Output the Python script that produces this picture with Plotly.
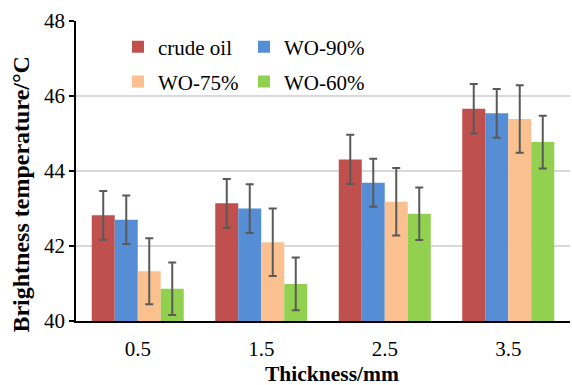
import plotly.graph_objects as go

categories = ["0.5", "1.5", "2.5", "3.5"]
series_names = ["crude oil", "WO-90%", "WO-75%", "WO-60%"]
crude_oil = [42.82, 43.14, 44.31, 45.66]
wo_90 = [42.70, 43.00, 43.69, 45.54]
wo_75 = [41.33, 42.10, 43.18, 45.39]
wo_60 = [40.86, 40.99, 42.86, 44.77]
err_crude = [0.65, 0.65, 0.66, 0.66]
err_90 = [0.65, 0.65, 0.64, 0.65]
err_75 = [0.88, 0.90, 0.90, 0.90]
err_60 = [0.70, 0.70, 0.70, 0.70]
colors = ["#C0504D", "#558ED5", "#FAC090", "#92D050"]
x_title = "Thickness/mm"
y_title = "Brightness temperature/°C"

values = [crude_oil, wo_90, wo_75, wo_60]
errors = [err_crude, err_90, err_75, err_60]
legend_ids = ["legend", "legend", "legend2", "legend2"]

FONT = "Liberation Serif"

fig = go.Figure()
for name, vals, errs, col, lg in zip(series_names, values, errors, colors, legend_ids):
    fig.add_trace(go.Bar(
        x=categories, y=vals, name=name, legend=lg,
        marker=dict(color=col, line=dict(width=0)),
        error_y=dict(type="data", array=errs, visible=True,
                     color="#595959", thickness=2, width=4),
    ))


def legend_cfg(y):
    return dict(orientation="h", entrywidth=81, entrywidthmode="pixels",
                font=dict(family=FONT, size=21, color="#000000"),
                bgcolor="rgba(0,0,0,0)", xanchor="left", yanchor="middle",
                x=0.085, y=y, itemclick=False, itemdoubleclick=False)


fig.update_layout(
    width=572, height=385,
    margin=dict(l=76, r=2, t=21, b=64),
    paper_bgcolor="white", plot_bgcolor="white",
    barmode="group", bargap=0.255, bargroupgap=0,
    font=dict(family=FONT, size=20, color="#000000"),
    legend=legend_cfg(0.913),
    legend2=legend_cfg(0.797),
    xaxis=dict(
        showline=True, linecolor="#000000", linewidth=1.5,
        ticks="", showgrid=False,
        tickfont=dict(family=FONT, size=21, color="#000000"),
        ticklabelstandoff=8,
    ),
    yaxis=dict(
        range=[40, 48], dtick=2, tick0=40,
        showline=True, linecolor="#000000", linewidth=1.5,
        ticks="outside", ticklen=5, tickcolor="#000000", tickwidth=1.5,
        showgrid=True, gridcolor="#D9D9D9", gridwidth=1.5,
        zeroline=False,
        tickfont=dict(family=FONT, size=21, color="#000000"),
    ),
    annotations=[
        dict(text="<b>" + x_title + "</b>", xref="paper", yref="paper",
             x=0.519, y=-0.178, xanchor="center", yanchor="middle",
             showarrow=False, font=dict(family=FONT, size=21.5, color="#000000")),
        dict(text="<b>" + y_title + "</b>", xref="paper", yref="paper",
             x=-0.111, y=0.422, xanchor="center", yanchor="middle", textangle=-90,
             showarrow=False, font=dict(family=FONT, size=24, color="#000000")),
    ],
)

fig.write_html("out.html", config={"displayModeBar": False},
               post_script="document.body.style.margin='0';")
